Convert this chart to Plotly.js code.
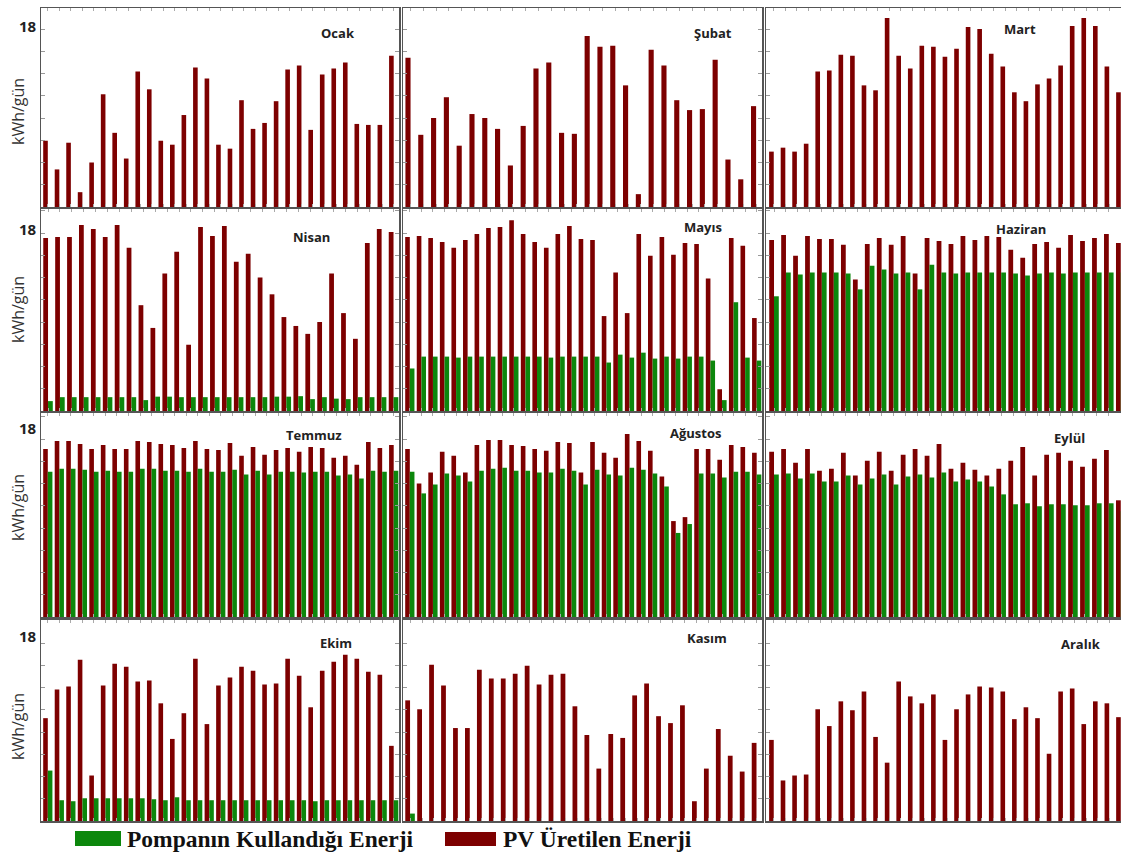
<!DOCTYPE html>
<html><head><meta charset="utf-8">
<script src="https://cdn.plot.ly/plotly-3.0.1.min.js"></script>
<style>html,body{margin:0;padding:0;background:#fff}#chart{width:1121px;height:855px}</style>
</head><body><div id="chart"></div>
<script>
const months = ['Ocak','Şubat','Mart','Nisan','Mayıs','Haziran','Temmuz','Ağustos','Eylül','Ekim','Kasım','Aralık'];
const seriesNames = ['Pompanın Kullandığı Enerji','PV Üretilen Enerji'];
const yLabel = 'kWh/gün';
const yTickLabel = '18';

const pvOcak = [6.7,3.8,6.5,1.5,4.5,11.4,7.5,4.9,13.7,11.9,6.7,6.3,9.3,14.1,13.0,6.3,5.9,10.8,7.9,8.5,10.7,13.9,14.3,7.8,13.4,14.0,14.6,8.4,8.3,8.3,15.3];
const pumpOcak = [0,0,0,0,0,0,0,0,0,0,0,0,0,0,0,0,0,0,0,0,0,0,0,0,0,0,0,0,0,0,0];
const pvSubat = [15.1,7.3,9.0,11.1,6.2,9.4,9.0,7.9,4.2,8.2,14.0,14.6,7.5,7.4,17.3,16.2,16.3,12.3,1.3,15.9,14.3,10.8,9.8,9.9,14.9,4.8,2.8,10.2];
const pumpSubat = [0,0,0,0,0,0,0,0,0,0,0,0,0,0,0,0,0,0,0,0,0,0,0,0,0,0,0,0];
const pvMart = [5.6,6.0,5.6,6.4,13.7,13.8,15.4,15.3,12.3,11.8,19.1,15.3,14.0,16.3,16.2,15.2,16.0,18.2,18.0,15.5,14.2,11.6,10.7,12.4,13.0,14.3,18.3,19.1,18.3,14.2,11.6];
const pumpMart = [0,0,0,0,0,0,0,0,0,0,0,0,0,0,0,0,0,0,0,0,0,0,0,0,0,0,0,0,0,0,0];
const pvNisan = [17.5,17.6,17.6,18.8,18.4,17.6,18.8,16.5,10.7,8.4,13.9,16.1,6.7,18.6,17.7,18.7,15.1,15.9,13.5,11.8,9.5,8.6,7.8,9.0,13.9,9.9,7.3,17.0,18.4,18.1];
const pumpNisan = [1.0,1.4,1.4,1.4,1.4,1.4,1.4,1.4,1.1,1.45,1.45,1.4,1.4,1.4,1.4,1.4,1.4,1.4,1.4,1.45,1.45,1.5,1.2,1.4,1.25,1.2,1.4,1.4,1.4,1.4];
const pvMayis = [17.6,17.7,17.5,17.1,16.5,17.3,17.9,18.5,18.6,19.3,17.9,17.1,16.5,17.9,18.7,17.4,17.3,9.6,14.0,9.9,17.9,15.7,17.6,15.8,17.0,16.9,13.4,2.2,17.5,16.7,9.4];
const pumpMayis = [4.3,5.5,5.5,5.5,5.4,5.5,5.5,5.5,5.5,5.5,5.5,5.5,5.4,5.5,5.5,5.5,5.5,4.9,5.7,5.4,5.9,5.3,5.5,5.3,5.5,5.5,5.1,1.1,11.0,5.4,5.1];
const pvHaziran = [17.3,17.8,15.7,17.7,17.4,17.4,16.8,13.3,16.9,17.5,16.8,17.7,13.9,17.5,17.2,16.9,17.7,17.3,17.7,17.6,16.3,15.5,16.9,17.1,16.5,17.8,17.2,17.5,17.9,17.0];
const pumpHaziran = [11.6,14.0,13.8,14.0,14.0,14.0,13.9,12.3,14.7,14.3,13.9,14.0,12.3,14.8,14.0,13.9,14.0,14.0,14.0,14.0,13.9,13.7,13.9,14.0,13.9,14.0,14.0,14.0,14.0,14.0];
const pvTemmuz = [17.0,17.8,17.8,17.5,17.0,17.4,17.0,17.0,17.8,17.7,17.5,17.4,17.1,17.8,17.0,16.9,17.6,16.3,17.2,16.4,16.9,17.1,16.7,17.2,17.1,16.1,16.3,15.4,17.7,17.1,17.4];
const pumpTemmuz = [14.7,15.0,15.0,14.9,14.7,14.8,14.7,14.7,15.0,15.0,14.8,14.8,14.7,15.0,14.7,14.7,14.9,14.4,14.8,14.4,14.7,14.7,14.6,14.7,14.7,14.3,14.4,14.0,14.8,14.7,14.8];
const pvAgustos = [17.0,13.5,14.6,16.7,16.3,14.6,17.4,17.9,17.9,17.4,17.3,17.0,16.8,17.7,17.6,14.6,17.7,16.6,16.1,18.5,17.8,16.8,14.2,9.7,10.1,17.0,17.0,15.9,17.4,17.2,16.6];
const pumpAgustos = [14.7,12.5,13.4,14.5,14.3,13.7,14.8,15.0,15.1,14.8,14.8,14.6,14.6,15.0,14.8,13.4,14.9,14.4,14.3,15.1,14.9,14.5,13.2,8.5,9.4,14.5,14.5,14.1,14.7,14.7,14.4];
const pvEylul = [16.7,17.0,15.6,17.0,14.8,15.0,16.6,14.3,15.8,16.7,14.8,16.4,17.0,16.3,17.5,15.0,15.6,14.9,14.3,15.0,15.8,17.2,14.3,16.4,16.6,15.8,15.2,16.0,16.9,11.8];
const pumpEylul = [14.4,14.5,14.0,14.5,13.7,13.7,14.3,13.4,14.0,14.4,13.4,14.2,14.4,14.1,14.6,13.7,13.9,13.7,13.2,12.4,11.4,11.5,11.2,11.4,11.4,11.3,11.3,11.5,11.5,10.7];
const pvEkim = [10.4,13.3,13.6,16.3,4.6,13.7,15.9,15.6,14.1,14.2,11.9,8.3,10.9,16.4,9.8,13.7,14.5,15.6,15.2,13.8,13.9,16.4,14.7,11.5,15.2,16.1,16.8,16.4,15.1,14.8,7.6];
const pumpEkim = [5.1,2.1,2.0,2.3,2.3,2.3,2.3,2.3,2.3,2.2,2.1,2.4,2.1,2.1,2.1,2.1,2.1,2.1,2.1,2.1,2.1,2.1,2.1,2.0,2.1,2.1,2.1,2.1,2.1,2.1,2.1];
const pvKasim = [12.2,11.3,15.8,13.7,9.4,9.4,15.3,14.4,14.4,14.9,15.7,13.8,14.8,14.9,11.6,8.7,5.3,8.8,8.4,12.7,13.9,10.6,9.9,11.7,2.0,5.3,9.3,6.6,5.0,7.9];
const pumpKasim = [0.75,0,0,0,0,0,0,0,0,0,0,0,0,0,0,0,0,0,0,0,0,0,0,0,0,0,0,0,0,0];
const pvAralik = [8.2,4.1,4.6,4.7,11.3,9.6,12.1,11.2,13.1,8.5,5.9,14.1,12.6,11.9,12.8,8.2,11.3,12.8,13.6,13.5,13.1,10.3,11.5,10.4,6.8,13.1,13.4,9.8,12.1,11.9,10.5];
const pumpAralik = [0,0,0,0,0,0,0,0,0,0,0,0,0,0,0,0,0,0,0,0,0,0,0,0,0,0,0,0,0,0,0];

const pvAll = [pvOcak,pvSubat,pvMart,pvNisan,pvMayis,pvHaziran,pvTemmuz,pvAgustos,pvEylul,pvEkim,pvKasim,pvAralik];
const pumpAll = [pumpOcak,pumpSubat,pumpMart,pumpNisan,pumpMayis,pumpHaziran,pumpTemmuz,pumpAgustos,pumpEylul,pumpEkim,pumpKasim,pumpAralik];

// layout geometry (pixels)
const W = 1121, H = 855;
const colX = [[41,399],[403,762],[766,1121]];
const rowY = [[8,207],[209,411],[413,617],[620,821]];
const px18 = 178; // pixels for 18 units
const titlePos = [[338,33],[713,33],[1020,29],[312,237],[703,227],[1021,229],[314,435],[696,433],[1069,438],[336,643],[707,638],[1081,644]];
const lab18Y = [26,229,428,636];
const ylabY = [112,310,508,727];

const RED = '#7d0000', GREEN = '#0c870c';
const px = x => x / W;
const py = y => 1 - y / H;

const data = [];
const layout = {
  width: W, height: H,
  margin: {l:0, r:0, t:0, b:0},
  paper_bgcolor: '#fff', plot_bgcolor: '#fff',
  barmode: 'group', bargap: 0.2, bargroupgap: 0,
  showlegend: false,
  annotations: [], shapes: [],
  font: {family: 'Open Sans, sans-serif'}
};

for (let i = 0; i < 12; i++) {
  const r = Math.floor(i / 3), c = i % 3;
  const n = pvAll[i].length;
  const days = pvAll[i].map((_, k) => k + 1);
  const sfx = i === 0 ? '' : String(i + 1);
  data.push({type:'bar', x: days, y: pvAll[i], name: seriesNames[1], marker:{color: RED, line:{width:0}}, xaxis:'x'+sfx, yaxis:'y'+sfx, hoverinfo:'skip'});
  data.push({type:'bar', x: days, y: pumpAll[i], name: seriesNames[0], marker:{color: GREEN, line:{width:0}}, xaxis:'x'+sfx, yaxis:'y'+sfx, hoverinfo:'skip'});
  const [x0, x1] = colX[c], [yt, yb] = rowY[r];
  const xr = c === 2 ? [0.33, n + 0.02] : [0.41, n + 0.46];
  const ytop = (yb - yt) / px18 * 18;
  layout['xaxis' + sfx] = {domain:[px(x0), px(x1)], anchor:'y'+sfx, range: xr, showgrid:false, zeroline:false,
    showline:true, mirror:'ticks', linecolor:'#555', linewidth:1.5, ticks:'inside', ticklen:3, tickcolor:'#aaa',
    tick0:1, dtick:1, showticklabels:false, fixedrange:true};
  layout['yaxis' + sfx] = {domain:[py(yb), py(yt)], anchor:'x'+sfx, range:[0, ytop], showgrid:false, zeroline:false,
    showline:true, mirror: c === 2 ? false : 'ticks', linecolor:'#555', linewidth:1.5, ticks:'inside', ticklen:4, tickcolor:'#999',
    tick0:0, dtick:2.25, showticklabels:false, fixedrange:true};
  layout.annotations.push({xref:'paper', yref:'paper', x: px(titlePos[i][0]), y: py(titlePos[i][1]), xanchor:'center', yanchor:'middle',
    text: '<b>' + months[i] + '</b>', showarrow:false, font:{family:'Open Sans, sans-serif', size:13, color:'#222'}});
}
for (let r = 0; r < 4; r++) {
  layout.annotations.push({xref:'paper', yref:'paper', x: px(28), y: py(lab18Y[r]), xanchor:'center', yanchor:'middle',
    text:'<b>' + yTickLabel + '</b>', showarrow:false, font:{family:'Open Sans, sans-serif', size:15, color:'#222'}});
  layout.annotations.push({xref:'paper', yref:'paper', x: px(18), y: py(ylabY[r]), xanchor:'center', yanchor:'middle', textangle:-90,
    text: yLabel, showarrow:false, font:{family:'Open Sans, sans-serif', size:16, color:'#333'}});
}
// legend
layout.shapes.push({type:'rect', xref:'paper', yref:'paper', x0:px(75), x1:px(121), y0:py(846), y1:py(831), fillcolor:GREEN, line:{width:0}});
layout.shapes.push({type:'rect', xref:'paper', yref:'paper', x0:px(445), x1:px(496), y0:py(846), y1:py(832), fillcolor:RED, line:{width:0}});
layout.annotations.push({xref:'paper', yref:'paper', x:px(125), y:py(839), xanchor:'left', yanchor:'middle', showarrow:false,
  text:'<b>' + seriesNames[0] + '</b>', font:{family:'Liberation Serif, Times New Roman, serif', size:23.5, color:'#111'}});
layout.annotations.push({xref:'paper', yref:'paper', x:px(501), y:py(839), xanchor:'left', yanchor:'middle', showarrow:false,
  text:'<b>' + seriesNames[1] + '</b>', font:{family:'Liberation Serif, Times New Roman, serif', size:23.5, color:'#111'}});

Plotly.newPlot('chart', data, layout, {displayModeBar:false, staticPlot:true});
</script>
</body></html>
